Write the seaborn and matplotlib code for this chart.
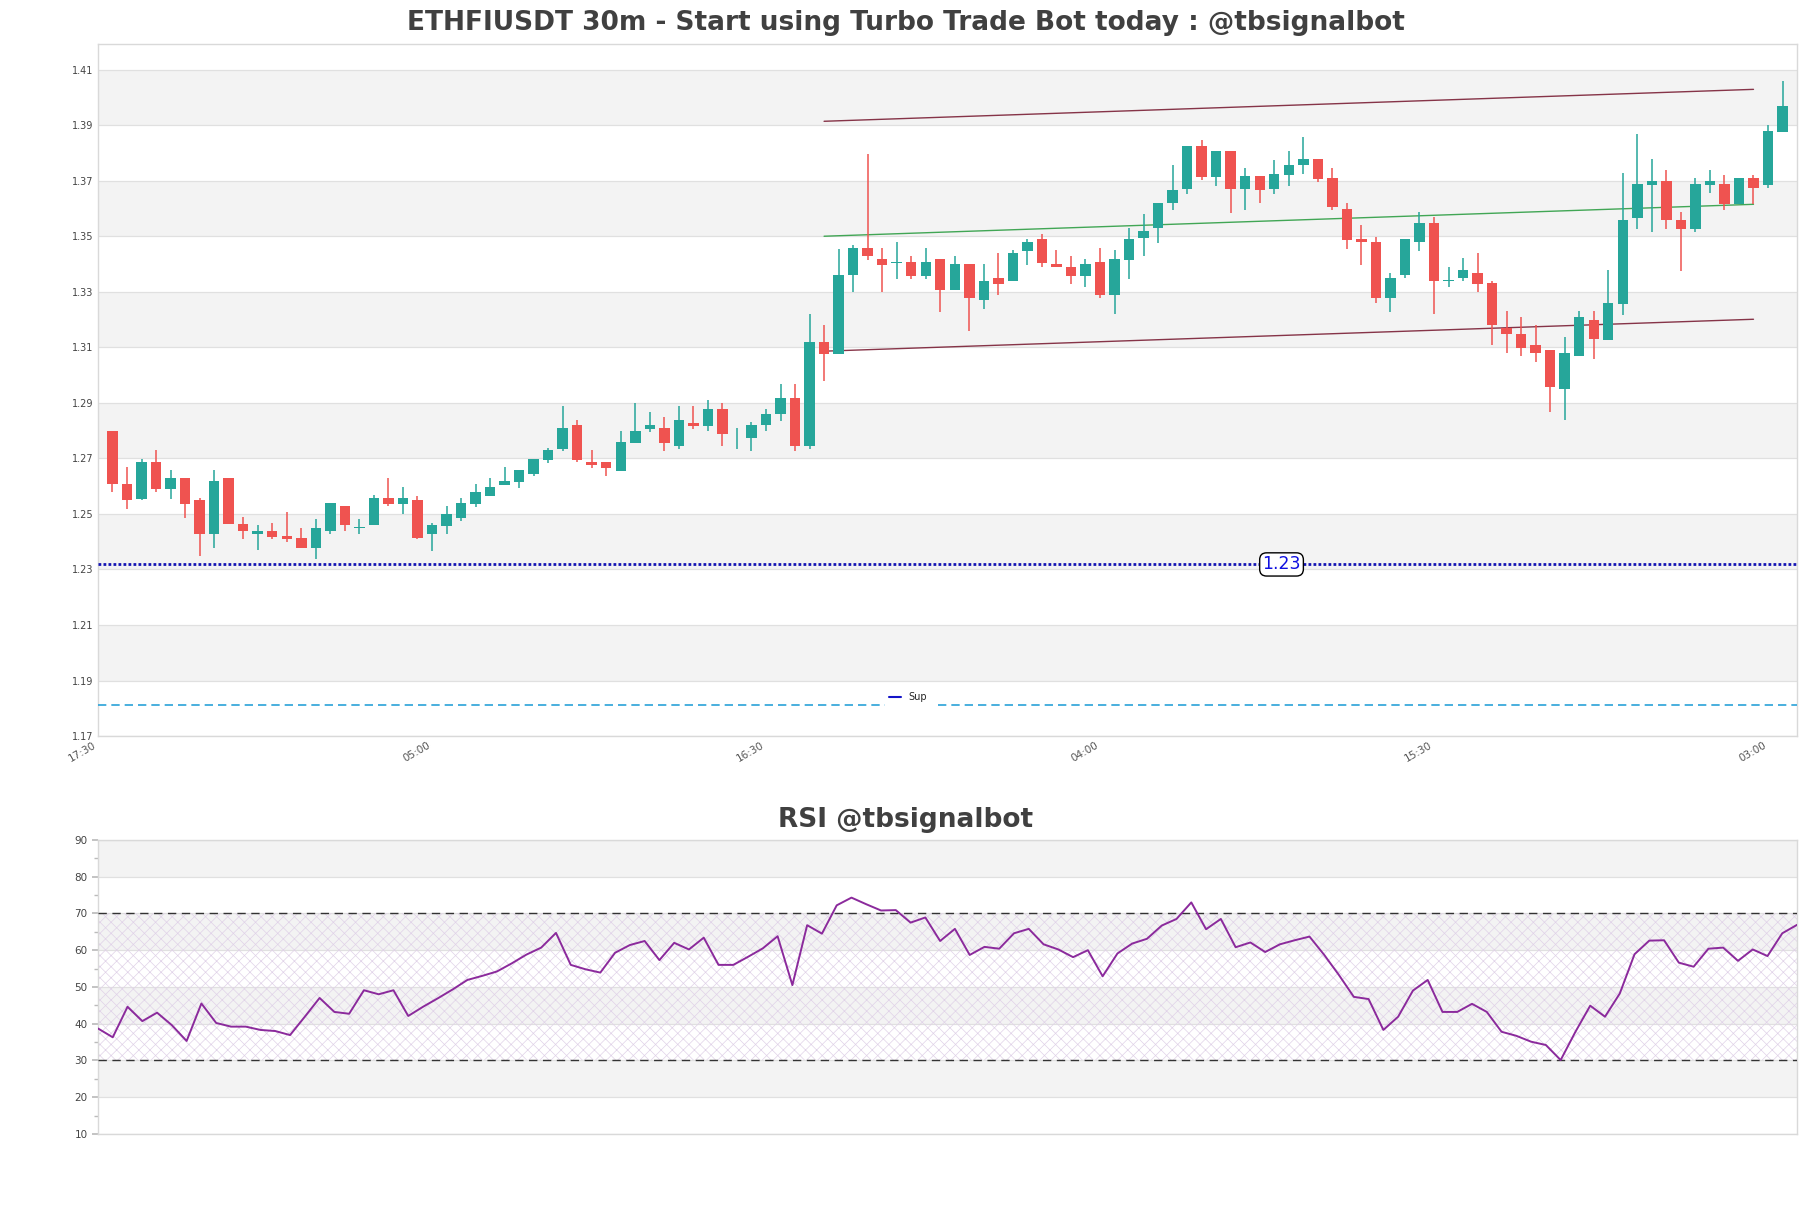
import numpy as np
import pandas as pd
import matplotlib
matplotlib.use("Agg")
import matplotlib.pyplot as plt
import seaborn as sns
from matplotlib.lines import Line2D
from matplotlib.ticker import FormatStrFormatter, MultipleLocator

# ---------------- data ----------------
opens = [1.2798, 1.2608, 1.2555, 1.2688, 1.2588, 1.2630, 1.2551, 1.2426, 1.2630, 1.2462,
         1.2427, 1.2440, 1.2419, 1.2412, 1.2376, 1.2438, 1.2529, 1.2451, 1.2460, 1.2558,
         1.2536, 1.2550, 1.2426, 1.2458, 1.2487, 1.2537, 1.2566, 1.2605, 1.2616, 1.2645,
         1.2695, 1.2734, 1.2820, 1.2687, 1.2687, 1.2656, 1.2756, 1.2805, 1.2809, 1.2746,
         1.2828, 1.2818, 1.2878, 1.2787, 1.2774, 1.2821, 1.2858, 1.2918, 1.2746, 1.3119,
         1.3077, 1.3360, 1.3458, 1.3418, 1.3405, 1.3406, 1.3358, 1.3418, 1.3308, 1.3400,
         1.3270, 1.3349, 1.3338, 1.3448, 1.3490, 1.3400, 1.3388, 1.3358, 1.3408, 1.3288,
         1.3416, 1.3495, 1.3528, 1.3618, 1.3671, 1.3826, 1.3714, 1.3808, 1.3671, 1.3718,
         1.3671, 1.3722, 1.3756, 1.3777, 1.3708, 1.3597, 1.3490, 1.3478, 1.3278, 1.3360,
         1.3478, 1.3548, 1.3339, 1.3350, 1.3369, 1.3330, 1.3171, 1.3149, 1.3110, 1.3092,
         1.2949, 1.3068, 1.3199, 1.3126, 1.3256, 1.3567, 1.3684, 1.3698, 1.3559, 1.3526,
         1.3684, 1.3687, 1.3617, 1.3708, 1.3684, 1.3877]
highs = [1.2798, 1.2668, 1.2698, 1.2731, 1.2658, 1.2630, 1.2557, 1.2658, 1.2630, 1.2490,
         1.2461, 1.2468, 1.2507, 1.2451, 1.2480, 1.2540, 1.2529, 1.2480, 1.2569, 1.2630,
         1.2597, 1.2566, 1.2468, 1.2529, 1.2557, 1.2608, 1.2629, 1.2669, 1.2658, 1.2698,
         1.2737, 1.2889, 1.2838, 1.2730, 1.2687, 1.2798, 1.2900, 1.2866, 1.2849, 1.2889,
         1.2888, 1.2911, 1.2900, 1.2810, 1.2830, 1.2878, 1.2968, 1.2968, 1.3220, 1.3180,
         1.3453, 1.3469, 1.3797, 1.3458, 1.3478, 1.3428, 1.3458, 1.3418, 1.3430, 1.3400,
         1.3400, 1.3440, 1.3451, 1.3490, 1.3508, 1.3451, 1.3430, 1.3418, 1.3458, 1.3451,
         1.3529, 1.3580, 1.3619, 1.3758, 1.3826, 1.3848, 1.3808, 1.3808, 1.3747, 1.3718,
         1.3776, 1.3808, 1.3857, 1.3777, 1.3747, 1.3619, 1.3541, 1.3496, 1.3368, 1.3490,
         1.3586, 1.3568, 1.3390, 1.3420, 1.3441, 1.3340, 1.3229, 1.3209, 1.3181, 1.3092,
         1.3137, 1.3229, 1.3229, 1.3379, 1.3726, 1.3867, 1.3777, 1.3737, 1.3587, 1.3708,
         1.3738, 1.3719, 1.3708, 1.3719, 1.3900, 1.4059]
lows = [1.2579, 1.2517, 1.2549, 1.2579, 1.2555, 1.2487, 1.2349, 1.2376, 1.2465, 1.2408,
        1.2370, 1.2411, 1.2399, 1.2376, 1.2338, 1.2427, 1.2438, 1.2427, 1.2460, 1.2527,
        1.2498, 1.2408, 1.2368, 1.2426, 1.2476, 1.2526, 1.2566, 1.2605, 1.2595, 1.2638,
        1.2684, 1.2728, 1.2686, 1.2666, 1.2638, 1.2656, 1.2756, 1.2796, 1.2728, 1.2734,
        1.2807, 1.2797, 1.2746, 1.2734, 1.2728, 1.2797, 1.2836, 1.2728, 1.2734, 1.2977,
        1.3077, 1.3300, 1.3416, 1.3300, 1.3346, 1.3346, 1.3346, 1.3228, 1.3308, 1.3158,
        1.3238, 1.3288, 1.3338, 1.3398, 1.3388, 1.3388, 1.3328, 1.3318, 1.3278, 1.3220,
        1.3346, 1.3428, 1.3476, 1.3596, 1.3653, 1.3704, 1.3682, 1.3585, 1.3596, 1.3618,
        1.3653, 1.3682, 1.3725, 1.3695, 1.3595, 1.3455, 1.3398, 1.3258, 1.3228, 1.3350,
        1.3448, 1.3220, 1.3318, 1.3338, 1.3298, 1.3107, 1.3080, 1.3068, 1.3047, 1.2868,
        1.2838, 1.3068, 1.3059, 1.3126, 1.3216, 1.3526, 1.3517, 1.3526, 1.3376, 1.3517,
        1.3656, 1.3596, 1.3617, 1.3617, 1.3675, 1.3877]
closes = [1.2606, 1.2549, 1.2688, 1.2588, 1.2630, 1.2537, 1.2426, 1.2619, 1.2465, 1.2438,
          1.2440, 1.2418, 1.2410, 1.2376, 1.2451, 1.2540, 1.2460, 1.2452, 1.2558, 1.2537,
          1.2557, 1.2414, 1.2460, 1.2500, 1.2540, 1.2579, 1.2597, 1.2619, 1.2658, 1.2698,
          1.2730, 1.2809, 1.2694, 1.2677, 1.2666, 1.2759, 1.2798, 1.2820, 1.2756, 1.2838,
          1.2817, 1.2878, 1.2786, 1.2789, 1.2821, 1.2860, 1.2918, 1.2746, 1.3119, 1.3077,
          1.3362, 1.3458, 1.3428, 1.3398, 1.3406, 1.3358, 1.3406, 1.3308, 1.3400, 1.3276,
          1.3339, 1.3328, 1.3440, 1.3478, 1.3404, 1.3388, 1.3358, 1.3400, 1.3288, 1.3418,
          1.3490, 1.3519, 1.3619, 1.3668, 1.3826, 1.3714, 1.3808, 1.3671, 1.3718, 1.3665,
          1.3725, 1.3758, 1.3777, 1.3705, 1.3605, 1.3488, 1.3478, 1.3278, 1.3350, 1.3490,
          1.3548, 1.3338, 1.3340, 1.3380, 1.3328, 1.3179, 1.3147, 1.3098, 1.3080, 1.2957,
          1.3081, 1.3210, 1.3129, 1.3259, 1.3559, 1.3687, 1.3698, 1.3557, 1.3526, 1.3687,
          1.3698, 1.3617, 1.3708, 1.3675, 1.3880, 1.3970]
rsi_values = [38.7, 36.3, 44.6, 40.7, 43.0, 39.6, 35.3, 45.5, 40.2, 39.2,
              39.2, 38.3, 38.0, 36.9, 41.9, 47.0, 43.2, 42.7, 49.1, 48.0,
              49.1, 42.1, 44.6, 46.9, 49.3, 51.9, 53.0, 54.2, 56.4, 58.8,
              60.7, 64.7, 56.0, 54.8, 53.9, 59.3, 61.4, 62.5, 57.3, 62.0,
              60.2, 63.4, 56.0, 56.0, 58.2, 60.5, 63.8, 50.5, 66.8, 64.5,
              72.2, 74.3, 72.5, 70.8, 70.9, 67.5, 68.9, 62.5, 65.8, 58.7,
              60.9, 60.4, 64.6, 65.8, 61.6, 60.2, 58.1, 60.0, 52.9, 59.1,
              61.8, 63.1, 66.7, 68.5, 73.0, 65.7, 68.5, 60.8, 62.1, 59.5,
              61.6, 62.7, 63.7, 58.7, 53.2, 47.3, 46.7, 38.3, 41.9, 49.0,
              51.9, 43.2, 43.2, 45.4, 43.2, 37.8, 36.7, 35.1, 34.2, 30.1,
              37.8, 44.9, 41.9, 48.2, 58.9, 62.6, 62.7, 56.6, 55.5, 60.4,
              60.7, 57.1, 60.2, 58.4, 64.6, 66.9]
tick_labels = ["17:30", "05:00", "16:30", "04:00", "15:30", "03:00"]
channel_x = [49, 113]
channel_upper = [1.3914, 1.4029]
channel_mid = [1.3500, 1.3615]
channel_lower = [1.3086, 1.3201]
sup_level = 1.2318
sup_label = "1.23"
sup2_level = 1.1813

# ---------------- style ----------------
sns.set_theme(style="white")
plt.rcParams["font.family"] = ["DejaVu Sans"]
plt.rcParams["hatch.linewidth"] = 0.5

fig = plt.figure(figsize=(18.11, 12.08), dpi=100)
ax = fig.add_axes([0.0541, 0.3907, 0.9382, 0.5728])
ax2 = fig.add_axes([0.0541, 0.0613, 0.9382, 0.2434])

df = pd.DataFrame({"open": opens, "high": highs, "low": lows, "close": closes})
df["idx"] = np.arange(len(df))
n = len(df)

BAND = "#f3f3f3"
GRID = "#e0e0e0"
SPINE = "#d9d9d9"
UP = "#26a69a"
DOWN = "#ef5350"

# ---- main chart ----
for lo in [1.19, 1.23, 1.27, 1.31, 1.35, 1.39]:
    ax.axhspan(lo, lo + 0.02, color=BAND, zorder=0, lw=0)
ax.set_axisbelow(True)
ax.yaxis.grid(True, color=GRID, lw=0.9)

ch = pd.DataFrame({"x": channel_x * 3,
                   "y": channel_upper + channel_mid + channel_lower,
                   "line": ["up"] * 2 + ["mid"] * 2 + ["low"] * 2})
sns.lineplot(data=ch, x="x", y="y", hue="line",
             palette={"up": "#7a1f35", "mid": "#2e9e44", "low": "#7a1f35"},
             lw=1, ax=ax, legend=False, zorder=2, alpha=0.9)

up = df["close"] >= df["open"]
colors = np.where(up, UP, DOWN)
ax.vlines(df["idx"], df["low"], df["high"], colors=colors, lw=1.1, zorder=3)
body_bottom = np.minimum(df["open"], df["close"])
body_h = np.maximum((df["close"] - df["open"]).abs(), 0.00018)
ax.bar(df["idx"], body_h, bottom=body_bottom, width=0.72, color=colors,
       zorder=4, linewidth=0)

ax.axhline(sup_level, color="#1414b4", ls=(0, (1, 0.8)), lw=2.0, zorder=5)
ax.axhline(sup2_level, color="#2aa2d8", ls=(0, (5, 3)), lw=1.2, zorder=5)
ax.text(80.5, sup_level, sup_label, color="#1010e0", fontsize=12.5,
        ha="center", va="center", zorder=7,
        bbox=dict(boxstyle="round,pad=0.15,rounding_size=0.4", fc="white",
                  ec="black", lw=1))

leg = ax.legend(handles=[Line2D([0], [0], color="#1414c8", lw=1.5)],
                labels=["Sup"], loc="center", bbox_to_anchor=(0.477, 0.056),
                fontsize=7, frameon=True, facecolor="white", edgecolor="white",
                framealpha=1, handlelength=1.2, borderpad=0.5)
leg.set_zorder(8)

ax.set_xlim(-1, n)
ax.set_ylim(1.17, 1.4192)
ax.set_yticks(np.arange(1.17, 1.4101, 0.02))
ax.yaxis.set_major_formatter(FormatStrFormatter("%.2f"))
ax.set_xticks([-1, 22, 45, 68, 91, 114])
ax.set_xticklabels(tick_labels, rotation=30, ha="right")
ax.tick_params(axis="both", length=0, labelsize=7, labelcolor="#444444")
ax.tick_params(axis="x", labelsize=7.5, labelcolor="#555555", pad=3)
ax.set_xlabel("")
ax.set_ylabel("")
for s in ax.spines.values():
    s.set_color(SPINE)
    s.set_linewidth(1)
fig.text(0.5, 0.981, "ETHFIUSDT 30m - Start using Turbo Trade Bot today : @tbsignalbot",
         fontsize=19, fontweight="bold", color="#404040", ha="center", va="center")

# ---- RSI ----
for lo in [20, 40, 60, 80]:
    ax2.axhspan(lo, lo + 10, color=BAND, zorder=0, lw=0)
ax2.set_axisbelow(True)
ax2.yaxis.grid(True, color=GRID, lw=0.9)
ax2.fill_between([0, n - 1], 30, 70, facecolor="none", hatch="xxx",
                 edgecolor="#e0d2e8", lw=0, zorder=1)
rs = pd.DataFrame({"x": np.arange(n), "rsi": rsi_values})
sns.lineplot(data=rs, x="x", y="rsi", color="#8b2a9c", lw=1.4, ax=ax2, zorder=4)
ax2.axhline(70, color="#333333", ls=(0, (6, 4)), lw=1, zorder=3)
ax2.axhline(30, color="#333333", ls=(0, (6, 4)), lw=1, zorder=3)
ax2.set_xlim(0, n - 1)
ax2.set_ylim(10, 90)
ax2.set_yticks(np.arange(10, 91, 10))
ax2.yaxis.set_minor_locator(MultipleLocator(5))
ax2.set_xticks([])
ax2.tick_params(axis="y", which="major", length=4, color="#bbbbbb",
                labelsize=7.5, labelcolor="#444444", left=True)
ax2.tick_params(axis="y", which="minor", length=3, color="#bbbbbb", left=True)
ax2.set_xlabel("")
ax2.set_ylabel("")
for s in ax2.spines.values():
    s.set_color(SPINE)
    s.set_linewidth(1)
fig.text(0.5, 0.3212, "RSI @tbsignalbot", fontsize=19, fontweight="bold",
         color="#404040", ha="center", va="center")

fig.savefig("out.png", dpi=100, facecolor="white")
